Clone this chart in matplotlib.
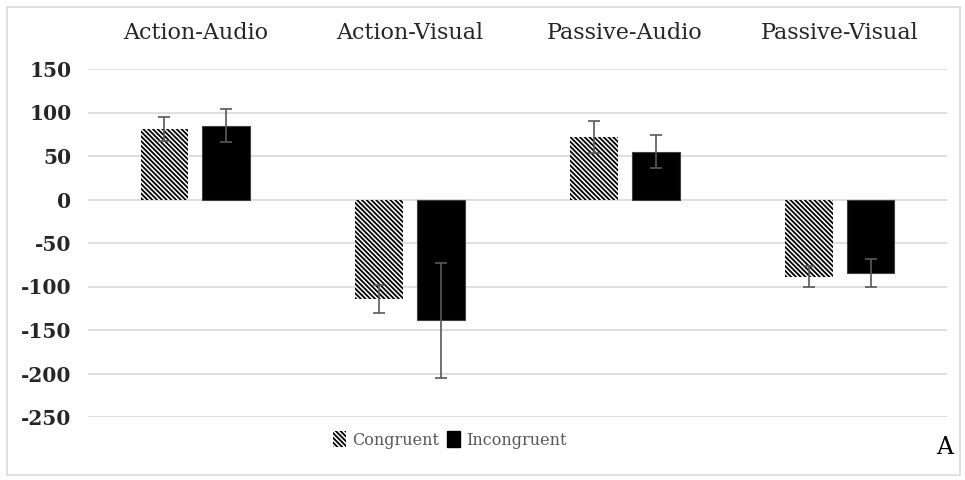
import matplotlib.pyplot as plt
import matplotlib.patches as mpatches
import numpy as np

# Data
conditions = ["Action-Audio", "Action-Visual", "Passive-Audio", "Passive-Visual"]
congruent = [81, -114, 72, -89]
congruent_err = [14, 16, 18, 12]
incongruent = [85, -139, 55, -84]
incongruent_err = [19, 66, 19, 16]
yticks = [150, 100, 50, 0, -50, -100, -150, -200, -250]

plt.rcParams["hatch.linewidth"] = 1.3
serif = ["DejaVu Serif"]
hatch = "\\" * 7

fig = plt.figure(figsize=(9.65, 4.8), dpi=100)
ax = fig.add_axes([88 / 965, 1 - 417 / 480, (947 - 88) / 965, (417 - 69) / 480])

x = np.arange(len(conditions))
w = 0.223
off = 0.144
err_kw = dict(ecolor="#595959", elinewidth=1.2, capsize=4, capthick=1.2)

ax.bar(x - off, congruent, w, color="white", edgecolor="black", linewidth=0,
       hatch=hatch, yerr=congruent_err, error_kw=err_kw, zorder=2)
ax.bar(x + off, incongruent, w, color="black", edgecolor="#404040", linewidth=0.8,
       yerr=incongruent_err, error_kw=err_kw, zorder=2)

ax.set_xlim(-0.5, len(conditions) - 0.5)
ax.set_ylim(-250, 150)
ax.set_yticks(yticks)
ax.set_yticklabels([str(v) for v in yticks], fontfamily=serif, fontweight="bold",
                   fontsize=14.5, color="#262626")
ax.grid(axis="y", color="#d9d9d9", linewidth=1.2, zorder=0)
ax.set_axisbelow(True)

ax.xaxis.tick_top()
ax.set_xticks(x)
ax.set_xticklabels(conditions, fontfamily=serif, fontsize=16, color="#262626")
ax.tick_params(axis="x", length=0, pad=18)
ax.tick_params(axis="y", length=0, pad=12)
for s in ax.spines.values():
    s.set_visible(False)

# Legend
h1 = mpatches.Patch(facecolor="white", edgecolor="black", linewidth=0, hatch=hatch)
h2 = mpatches.Patch(facecolor="black", edgecolor="black")
fig.legend([h1, h2], ["Congruent", "Incongruent"], loc="center",
           bbox_to_anchor=(450 / 965, 1 - 440 / 480), ncol=2, frameon=False,
           handlelength=0.8, handleheight=1.1, handletextpad=0.4, columnspacing=0.5,
           prop={"family": serif, "size": 11.5}, labelcolor="#595959")

fig.text(945 / 965, 1 - 447 / 480, "A", ha="center", va="center",
         fontfamily=serif, fontsize=17, color="black")

# Outer frame
fig.patches.append(mpatches.Rectangle((7 / 965, 5 / 480), 953 / 965, 468 / 480,
                                      transform=fig.transFigure, fill=False,
                                      edgecolor="#d9d9d9", linewidth=1.2))

fig.savefig("out.png", dpi=100)
